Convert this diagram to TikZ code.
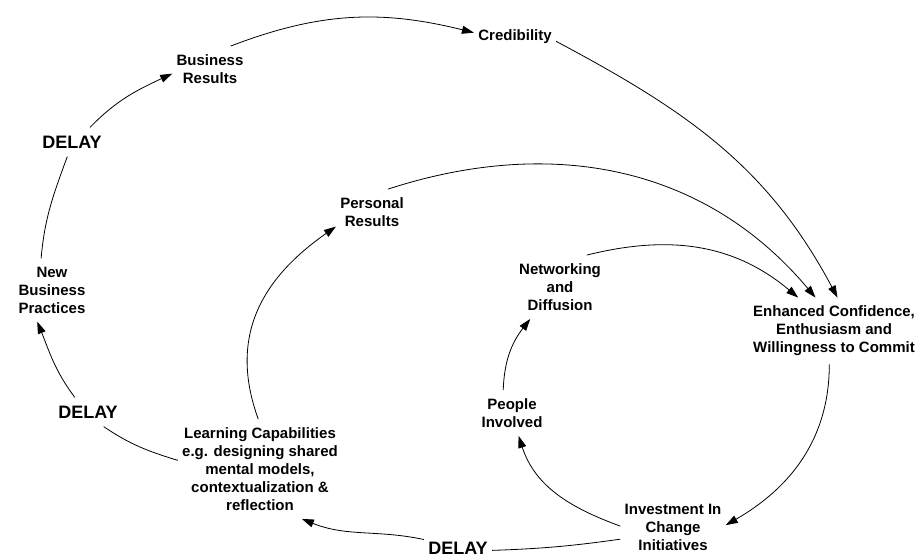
\documentclass[tikz,border=0pt]{standalone}
\usepackage{fontspec}
\setmainfont{Liberation Sans}
\usetikzlibrary{arrows.meta}

\begin{document}
\begin{tikzpicture}[x=1pt, y=1pt, line width=.8pt,
	every node/.style={rectangle, align=center, inner xsep=4pt, inner ysep=8pt, font=\bfseries\fontsize{15}{18}\selectfont},
	delay/.style={font=\bfseries\fontsize{18}{21}\selectfont},
	arr/.style={-{Triangle[length=12pt,width=8pt]}}]
	\useasboundingbox (0,0) rectangle (917,-559);
	\node[] (credibility) at (515,-37) {Credibility};
	\node[] (busResults) at (210,-69) {Business\\Results};
	\node[delay] (delayA) at (72,-142) {DELAY};
	\node[] (persResults) at (372,-212) {Personal\\Results};
	\node[] (newPractices) at (52,-290) {New\\Business\\Practices};
	\node[] (networking) at (560,-287) {Networking\\and\\Diffusion};
	\node[] (enhanced) at (834,-331) {Enhanced Confidence,\\Enthusiasm and\\Willingness to Commit};
	\node[delay] (delayB) at (88,-412) {DELAY};
	\node[] (learning) at (260,-469) {Learning Capabilities\\e.g. designing shared\\mental models,\\contextualization \&\\reflection};
	\node[] (people) at (512,-413) {People\\Involved};
	\node[] (investment) at (673,-527) {Investment In\\Change\\Initiatives};
	\node[delay] (delayC) at (458,-548) {DELAY};
	\draw (newPractices.109) to[out=85,in=250] (delayA.252);
	\draw[arr] (delayA.39) to[out=46,in=205] (busResults.187);
	\draw[arr] (busResults.48) to[out=21,in=166] (credibility.174);
	\draw[arr] (credibility.-6) to[out=-28,in=118] (enhanced.84);
	\draw[arr] (persResults.55) to[out=18,in=130] (enhanced.119);
	\draw[arr] (networking.50) to[out=14,in=140] (enhanced.137);
	\draw[arr] (enhanced.262) to[out=-90,in=30] (investment.2);
	\draw[arr] (investment.179) to[out=160,in=-72] (people.-74);
	\draw[arr] (people.111) to[out=88,in=232] (networking.227);
	\draw (investment.193) to[out=188,in=2] (delayC.-4);
	\draw[arr] (delayC.166) to[out=168,in=-22] (learning.-50);
	\draw (learning.174) to[out=163,in=-34] (delayB.-43);
	\draw[arr] (delayB.132) to[out=127,in=-68] (newPractices.245);
	\draw[arr] (learning.92) to[out=110,in=215,looseness=1.1] (persResults.202);
\end{tikzpicture}
\end{document}
